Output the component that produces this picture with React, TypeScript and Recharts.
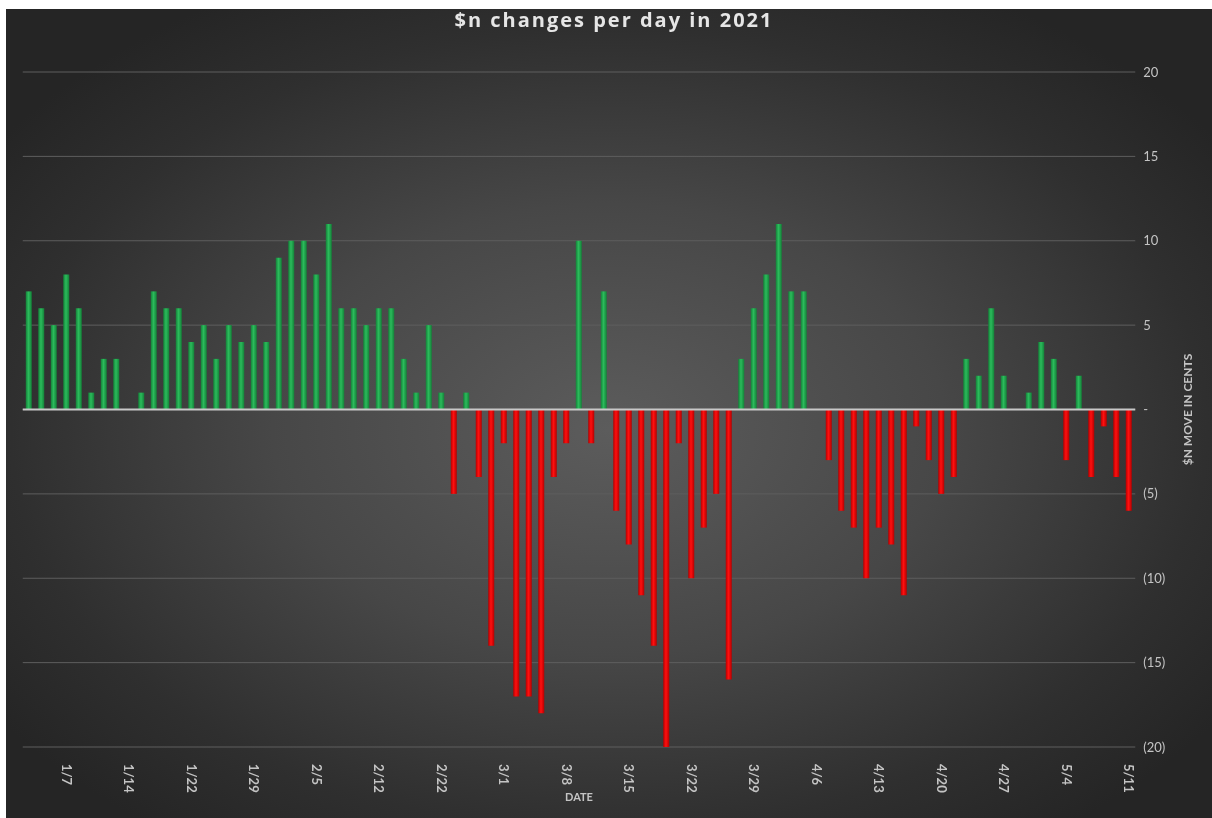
import React from "react";
import {
  BarChart,
  Bar,
  Cell,
  XAxis,
  YAxis,
  CartesianGrid,
  ReferenceLine,
} from "recharts";

// trading days, 1/4 through 5/11
const dates = [
  "1/4", "1/5", "1/6", "1/7", "1/8", "1/11", "1/12", "1/13", "1/14", "1/15",
  "1/19", "1/20", "1/21", "1/22", "1/25", "1/26", "1/27", "1/28", "1/29",
  "2/1", "2/2", "2/3", "2/4", "2/5", "2/8", "2/9", "2/10", "2/11", "2/12",
  "2/16", "2/17", "2/18", "2/19", "2/22", "2/23", "2/24", "2/25", "2/26",
  "3/1", "3/2", "3/3", "3/4", "3/5", "3/8", "3/9", "3/10", "3/11", "3/12",
  "3/15", "3/16", "3/17", "3/18", "3/19", "3/22", "3/23", "3/24", "3/25", "3/26",
  "3/29", "3/30", "3/31", "4/1", "4/5", "4/6", "4/7", "4/8", "4/9",
  "4/12", "4/13", "4/14", "4/15", "4/16", "4/19", "4/20", "4/21", "4/22", "4/23",
  "4/26", "4/27", "4/28", "4/29", "4/30", "5/3", "5/4", "5/5", "5/6", "5/7",
  "5/10", "5/11",
];

// daily move in cents
const moves = [
  7, 6, 5, 8, 6, 1, 3, 3, 0, 1,
  7, 6, 6, 4, 5, 3, 5, 4, 5,
  4, 9, 10, 10, 8, 11, 6, 6, 5, 6,
  6, 3, 1, 5, 1, -5, 1, -4, -14,
  -2, -17, -17, -18, -4, -2, 10, -2, 7, -6,
  -8, -11, -14, -20, -2, -10, -7, -5, -16, 3,
  6, 8, 11, 7, 7, 0, -3, -6, -7,
  -10, -7, -8, -11, -1, -3, -5, -4, 3, 2,
  6, 2, 0, 1, 4, 3, -3, 2, -4, -1,
  -4, -6,
];

const labelledDates = [
  "1/7", "1/14", "1/22", "1/29", "2/5", "2/12", "2/22", "3/1", "3/8",
  "3/15", "3/22", "3/29", "4/6", "4/13", "4/20", "4/27", "5/4", "5/11",
];

const yTicks = [-20, -15, -10, -5, 0, 5, 10, 15, 20];

const data = dates.map((date, i) => ({ date, move: moves[i] }));

const FONT = "Lato, 'Open Sans', sans-serif";
const TEXT = "#c4c4c4";

const formatCents = (v: number) => (v === 0 ? "-" : v < 0 ? `(${-v})` : `${v}`);

const DateTick = (props: any) => {
  const { x, y, payload } = props;
  if (!labelledDates.includes(payload.value)) return null;
  return (
    <text
      transform={`translate(${x},${y + 9}) rotate(90)`}
      textAnchor="start"
      dominantBaseline="central"
      fill={TEXT}
      fontSize={13}
      fontFamily={FONT}
      fontWeight={700}
    >
      {payload.value}
    </text>
  );
};

export default function App() {
  return (
    <div
      style={{
        position: "fixed",
        left: 6,
        top: 9,
        width: 1206,
        height: 809,
        background:
          "radial-gradient(ellipse 62% 62% at 50% 52%, #5c5c5c 0%, #474747 45%, #2f2f2f 80%, #252525 100%)",
        fontFamily: FONT,
      }}
    >
      <div
        style={{
          position: "absolute",
          top: 0,
          left: 0,
          width: 1206,
          textAlign: "center",
          lineHeight: "22px",
          color: "#e6e6e6",
          fontFamily: "'Open Sans', sans-serif",
          fontWeight: 700,
          fontSize: 20,
          letterSpacing: 2,
          transform: "translateX(5px)",
        }}
      >
        $n changes per day in 2021
      </div>
      <BarChart
        width={1206}
        height={809}
        data={data}
        margin={{ top: 63, right: 0, bottom: 0, left: 16.75 }}
        barSize={6}
      >
        <defs>
          <linearGradient id="gainFill" x1="0" y1="0" x2="1" y2="0">
            <stop offset="0%" stopColor="#138238" />
            <stop offset="45%" stopColor="#2cbb5c" />
            <stop offset="100%" stopColor="#138238" />
          </linearGradient>
          <linearGradient id="lossFill" x1="0" y1="0" x2="1" y2="0">
            <stop offset="0%" stopColor="#b50000" />
            <stop offset="45%" stopColor="#ff1010" />
            <stop offset="100%" stopColor="#b50000" />
          </linearGradient>
        </defs>
        <CartesianGrid horizontal vertical={false} stroke="#5e5e5e" strokeWidth={1} />
        <XAxis
          dataKey="date"
          interval={0}
          axisLine={false}
          tickLine={false}
          height={71}
          tick={<DateTick />}
          label={{
            value: "DATE",
            position: "insideBottom",
            offset: 17,
            fill: TEXT,
            fontSize: 11,
            fontWeight: 700,
            fontFamily: FONT,
          }}
        />
        <YAxis
          orientation="right"
          domain={[-20, 20]}
          ticks={yTicks}
          interval={0}
          width={76.75}
          axisLine={false}
          tickLine={false}
          tickSize={0}
          tickMargin={8}
          tickFormatter={formatCents}
          tick={{ fill: TEXT, fontSize: 13, fontFamily: FONT, textAnchor: "start" }}
          label={{
            value: "$N  MOVE IN CENTS",
            angle: -90,
            position: "center",
            dx: 14,
            fill: TEXT,
            fontSize: 12,
            fontWeight: 700,
            fontFamily: FONT,
          }}
        />
        <ReferenceLine y={0} stroke="#c8c8c8" strokeWidth={2} />
        <Bar dataKey="move" isAnimationActive={false}>
          {data.map((d) => (
            <Cell key={d.date} fill={d.move < 0 ? "url(#lossFill)" : "url(#gainFill)"} />
          ))}
        </Bar>
      </BarChart>
    </div>
  );
}
